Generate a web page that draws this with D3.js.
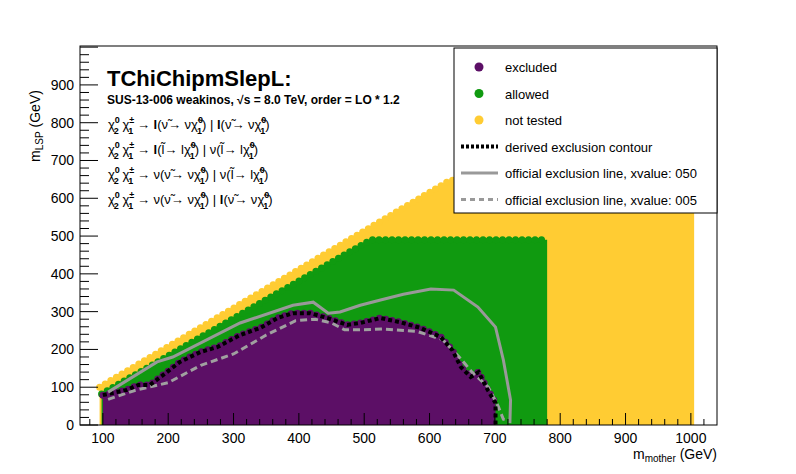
<!DOCTYPE html>
<html><head><meta charset="utf-8">
<script src="https://cdn.jsdelivr.net/npm/d3@7"></script>
<style>body{margin:0;background:#fff}text{font-family:"Liberation Sans",Arial,sans-serif}</style>
</head><body><svg id="c" width="796" height="474"></svg>
<script>
  // region outlines in (m_mother, m_LSP) GeV
  var notTested = [[95,100],[632,648],[1005,648],[1005,0],[95,0]];
  var allowed = [[98,82],[510,490],[780,490],[780,0],[98,0]];
  var excluded = [[100,79],[137,93],[154,106],[172,106],[192,132],[218,167],[249,193],[275,206],[310,238],[341,257],[367,283],[391,296],[417,296],[444,283],[474,265],[494,270],[525,283],[555,272],[586,257],[617,233],[635,198],[648,153],[663,127],[675,140],[689,93],[701,58],[701,0],[100,0]];
  var derivedContour = excluded.slice(0, excluded.length - 1);
  var official050 = [[108,87],[183,167],[207,180],[310,270],[391,317],[422,325],[445,296],[463,299],[494,317],[525,331],[560,346],[602,360],[637,357],[674,312],[701,259],[713,172],[724,66],[723,5]];
  var official005 = [[108,68],[150,92],[200,112],[250,158],[300,188],[350,238],[395,276],[425,280],[450,270],[470,252],[500,252],[530,254],[580,248],[620,226],[648,175],[665,140],[690,100],[705,50],[713,15],[720,12]];
  var xTicks = [100,200,300,400,500,600,700,800,900,1000];
  var yTicks = [0,100,200,300,400,500,600,700,800,900];
  var decays = [
    [["l","(",true],["l","ν"]],
    [["l","l"],["ν","l"]],
    [["ν","ν"],["ν","l"]],
    [["ν","ν"],["l","ν"]]
  ];

  var svg = d3.select("#c");
  var x = d3.scaleLinear().domain([65,1040]).range([80,717]);
  var y = d3.scaleLinear().domain([0,1003]).range([425,46]);
  var line = d3.line().x(function(d){return x(d[0])}).y(function(d){return y(d[1])});

  function region(pts, col){
    svg.append("path").attr("d", line(pts) + "Z").attr("fill", col);
    // scalloped dotted edge along the top
    svg.append("path").attr("d", line(pts.slice(0, pts.length - 2)))
      .attr("fill","none").attr("stroke",col).attr("stroke-width",7)
      .attr("stroke-linecap","round").attr("stroke-dasharray","0 6.5");
  }
  region(notTested, "#ffcc33");
  region(allowed, "#109a10");
  region(excluded, "#5c0f66");

  svg.append("path").attr("d", line(official005)).attr("fill","none")
    .attr("stroke","#a0a0a0").attr("stroke-width",3).attr("stroke-dasharray","7 4");
  svg.append("path").attr("d", line(derivedContour)).attr("fill","none")
    .attr("stroke","#000").attr("stroke-width",4).attr("stroke-dasharray","4 3");
  svg.append("path").attr("d", line(official050)).attr("fill","none")
    .attr("stroke","#999").attr("stroke-width",3);

  // frame
  svg.append("rect").attr("x",80).attr("y",46).attr("width",637).attr("height",379)
    .attr("fill","none").attr("stroke","#000");

  // ticks
  var g = svg.append("g").attr("stroke","#000");
  d3.range(80, 1040, 20).forEach(function(v){
    var major = v % 100 === 0, l = major ? 12 : 6;
    if (x(v) < 80) return;
    g.append("line").attr("x1",x(v)).attr("x2",x(v)).attr("y1",425).attr("y2",425-l);
  });
  d3.range(0, 1001, 20).forEach(function(v){
    var major = v % 100 === 0, l = major ? 18 : 9;
    g.append("line").attr("x1",80).attr("x2",80+l).attr("y1",y(v)).attr("y2",y(v));
  });
  svg.selectAll(".xl").data(xTicks).enter().append("text")
    .attr("x",function(d){return x(d)}).attr("y",443).attr("text-anchor","middle")
    .attr("font-size",14).text(function(d){return d});
  svg.selectAll(".yl").data(yTicks).enter().append("text")
    .attr("x",74).attr("y",function(d){return y(d)+5}).attr("text-anchor","end")
    .attr("font-size",14).text(function(d){return d});

  var xt = svg.append("text").attr("x",717).attr("y",459).attr("text-anchor","end").attr("font-size",14);
  xt.append("tspan").text("m");
  xt.append("tspan").attr("font-size",10).attr("dy",3).text("mother");
  xt.append("tspan").attr("dy",-3).text(" (GeV)");
  var yt = svg.append("text").attr("transform","translate(40,126) rotate(-90)").attr("text-anchor","middle").attr("font-size",14);
  yt.append("tspan").text("m");
  yt.append("tspan").attr("font-size",10).attr("dy",3).text("LSP");
  yt.append("tspan").attr("dy",-3).text(" (GeV)");

  // header text
  svg.append("text").attr("x",107).attr("y",86).attr("font-size",22).attr("font-weight","bold").text("TChiChipmSlepL:");
  svg.append("text").attr("x",107).attr("y",104).attr("font-size",12).attr("font-weight","bold")
    .text("SUS-13-006  weakinos, \u221As =  8.0 TeV, order =  LO * 1.2");

  function chi(t, sup, sub){
    t.append("tspan").text("χ");
    t.append("tspan").attr("font-size",9).attr("dy",-6).attr("font-weight","bold").text(sup);
    t.append("tspan").attr("font-size",9).attr("dx",-6).attr("dy",11).attr("font-weight","bold").text(sub);
    t.append("tspan").attr("dy",-5).text(" ");
  }
  function branch(t, lep, slep){
    var sl = slep === "l" ? "l\u0303" : "ν\u0303";
    var out = slep === "l" ? "l" : "ν";
    t.append("tspan").attr("font-weight", lep === "l" ? "bold" : "normal").text(lep);
    t.append("tspan").text("(" + sl + "\u2192 " + out);
    t.append("tspan").text("χ\u0303");
    t.append("tspan").attr("font-size",9).attr("dy",-6).attr("font-weight","bold").text("0");
    t.append("tspan").attr("font-size",9).attr("dx",-6).attr("dy",11).attr("font-weight","bold").text("1");
    t.append("tspan").attr("dy",-5).text(")");
  }
  decays.forEach(function(dc, i){
    var t = svg.append("text").attr("x",108).attr("y",129 + i*25).attr("font-size",13);
    chi(t, "0", "2"); t.append("tspan").text(" ");
    chi(t, "±", "1");
    t.append("tspan").text("  \u2192 ");
    branch(t, dc[0][0], dc[0][1]);
    t.append("tspan").text(" | ");
    branch(t, dc[1][0], dc[1][1]);
  });

  // legend
  var legItems = [
    {t:"excluded", k:"dot", c:"#5c0f66"},
    {t:"allowed", k:"dot", c:"#109a10"},
    {t:"not tested", k:"dot", c:"#ffcc33"},
    {t:"derived exclusion contour", k:"dots"},
    {t:" official exclusion line, xvalue: 050", k:"solid"},
    {t:" official exclusion line, xvalue: 005", k:"dash"}
  ];
  svg.append("rect").attr("x",454).attr("y",48).attr("width",263).attr("height",165)
    .attr("fill","#fff").attr("stroke","#000");
  legItems.forEach(function(d, i){
    var cy = 67 + i*26.5;
    if (d.k === "dot") svg.append("circle").attr("cx",479).attr("cy",cy).attr("r",4.5).attr("fill",d.c);
    else svg.append("line").attr("x1",461).attr("x2",498).attr("y1",cy).attr("y2",cy)
      .attr("stroke", d.k === "dots" ? "#000" : "#999").attr("stroke-width", d.k === "dots" ? 4 : 3)
      .attr("stroke-dasharray", d.k === "dots" ? "3 2" : d.k === "dash" ? "5 4" : null);
    svg.append("text").attr("x",505).attr("y",cy+5).attr("font-size",13).text(d.t);
  });
</script></body></html>
